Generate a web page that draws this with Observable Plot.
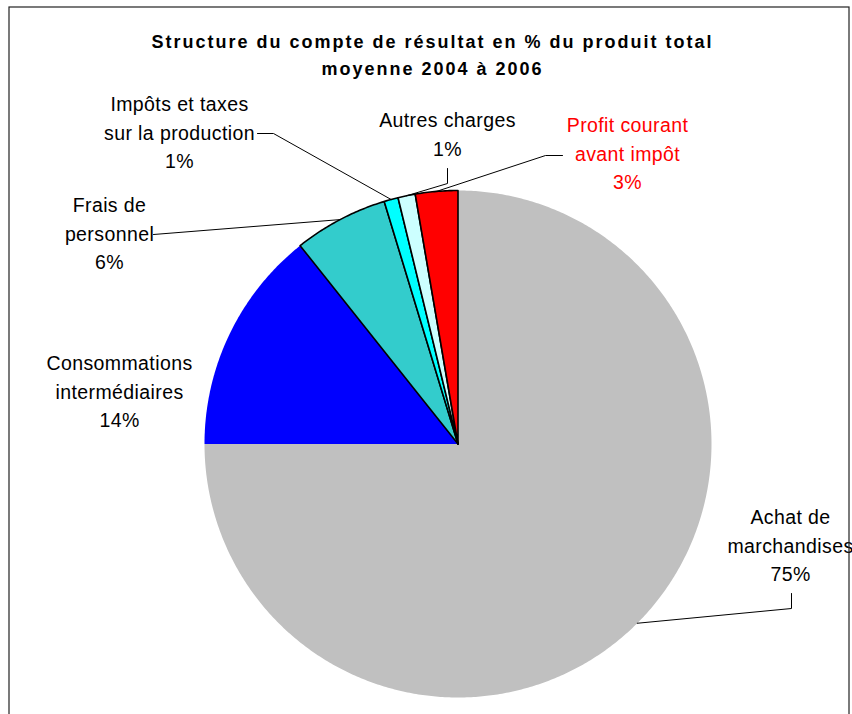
<!DOCTYPE html>
<html><head><meta charset="utf-8">
<script src="https://cdn.jsdelivr.net/npm/d3@7"></script>
<script src="https://cdn.jsdelivr.net/npm/@observablehq/plot@0.6"></script>
<style>
html,body{margin:0;padding:0;background:#fff;}
#chart{position:relative;width:852px;height:714px;overflow:hidden;}
#chart svg{display:block;}
#chart svg g.title text{letter-spacing:2px;}
#chart svg g.labels text{letter-spacing:0.4px;}
</style></head><body><div id="chart"></div>
<script>
// ---- data ----
const categories = ["Achat de marchandises", "Consommations intermédiaires", "Frais de personnel", "Impôts et taxes sur la production", "Autres charges", "Profit courant avant impôt"];
const values = [75.0, 14.3, 6.0, 0.9, 1.1, 2.7];
const percentLabels = ["75%", "14%", "6%", "1%", "1%", "3%"];
const labelLines = [["Achat de", "marchandises"], ["Consommations", "intermédiaires"], ["Frais de", "personnel"], ["Impôts et taxes", "sur la production"], ["Autres charges"], ["Profit courant", "avant impôt"]];
const sliceColors = ["#c0c0c0", "#0000ff", "#33cccc", "#00ffff", "#ccffff", "#ff0000"];
const outlined = [false, false, true, true, true, true];
const labelColors = ["#000", "#000", "#000", "#000", "#000", "#ff0000"];
const titleLines = ["Structure du compte de résultat en % du produit total", "moyenne 2004 à 2006"];

// ---- layout (pixels) ----
const W = 852, H = 714, CX = 457.5, CY = 443.5, R = 253.5;
const labelPos = [[790, 546], [119, 392], [109, 234], [179, 133], [447, 135], [627, 154]];
const leaderStart = [[[791, 593], [791, 608]], null, [[153, 234]], [[257, 133], [273, 133]], [[447, 168], [447, 183]], [[562, 155], [545, 155]]];
const ux = px => (px - CX) / R, uy = py => (CY - py) / R;

// ---- geometry from values ----
const total = d3.sum(values);
let cum = 0;
const slices = values.map((v, i) => {
  const a0 = cum / total * 2 * Math.PI; cum += v;
  const a1 = cum / total * 2 * Math.PI;
  return {i, name: categories[i], a0, a1, mid: (a0 + a1) / 2};
});
const slicePts = slices.map(s => {
  const n = Math.max(2, Math.ceil((s.a1 - s.a0) / (Math.PI / 360)));
  const pts = [{x: 0, y: 0}];
  for (let k = 0; k <= n; k++) { const a = s.a0 + (s.a1 - s.a0) * k / n; pts.push({x: Math.sin(a), y: Math.cos(a)}); }
  pts.push({x: 0, y: 0});
  return pts;
});
const leaders = [];
slices.forEach((s, i) => {
  if (!leaderStart[i]) return;
  leaderStart[i].forEach(p => leaders.push({name: s.name, x: ux(p[0]), y: uy(p[1])}));
  leaders.push({name: s.name, x: Math.sin(s.mid), y: Math.cos(s.mid)});
});
const labels = slices.map((s, i) => ({
  name: s.name, x: ux(labelPos[i][0]), y: uy(labelPos[i][1]),
  text: [...labelLines[i], percentLabels[i]].join("\n"), color: labelColors[i]
}));

const font = '"Liberation Sans", Arial, sans-serif';
const marks = [];
slices.forEach((s, i) => {
  marks.push(Plot.line(slicePts[i], {x: "x", y: "y", fill: sliceColors[i],
    stroke: outlined[i] ? "#000" : "none", strokeWidth: 1.6, curve: "linear"}));
});
marks.push(Plot.line(leaders, {x: "x", y: "y", z: "name", stroke: "#000", strokeWidth: 1}));
marks.push(Plot.text(labels, {x: "x", y: "y", text: "text", fill: "color", fontSize: 19.5, dy: -3,
  lineHeight: 1.44, textAnchor: "middle", lineAnchor: "middle", fontFamily: font, className: "labels"}));
marks.push(Plot.text([titleLines.join("\n")], {frameAnchor: "top", dx: 6, dy: 52, lineAnchor: "middle",
  fontSize: 18, fontWeight: "bold", lineHeight: 1.5, fill: "#000", fontFamily: font, className: "title"}));
marks.push(Plot.frame({stroke: "#222", strokeWidth: 1.2, insetLeft: 8.5, insetTop: 6.5, insetRight: 3.5, insetBottom: -20}));

const chart = Plot.plot({
  width: W, height: H, margin: 0,
  x: {domain: [ux(0), ux(W)], axis: null},
  y: {domain: [uy(H), uy(0)], axis: null},
  style: {fontFamily: font, background: "#fff", overflow: "hidden"},
  marks
});
document.getElementById("chart").appendChild(chart);
</script>
</body></html>
